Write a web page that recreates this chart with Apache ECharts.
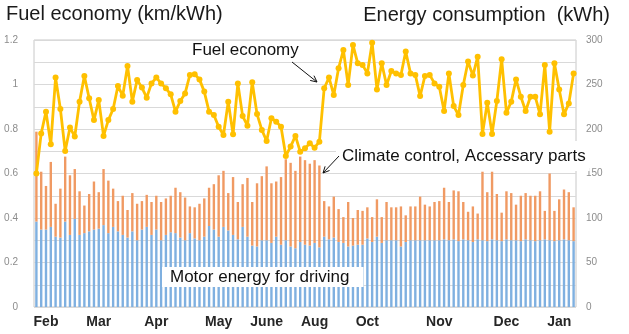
<!DOCTYPE html>
<html>
<head>
<meta charset="utf-8">
<script src="https://cdn.jsdelivr.net/npm/echarts@6/dist/echarts.min.js"></script>
<style>
  html, body { margin: 0; padding: 0; background: #fff; }
  #chart { width: 629px; height: 334px; }
</style>
</head>
<body>
<div id="chart"></div>
<script>
// Fuel economy (km/kWh), one reading per period
const fuelEconomy = [
  0.60, 0.780, 0.878, 0.731, 1.031, 0.890, 0.701, 0.807, 0.766, 0.923,
  1.038, 0.938, 0.840, 0.930, 0.769, 0.840, 0.890, 0.993, 0.950, 1.083,
  0.923, 1.020, 0.986, 0.941, 1.005, 1.031, 1.005, 0.983, 0.956, 0.878,
  0.926, 0.960, 1.043, 1.046, 1.023, 0.968, 0.878, 0.863, 0.810, 0.773,
  0.923, 0.776, 1.005, 0.858, 0.815, 1.010, 0.867, 0.796, 0.746, 0.848,
  0.833, 0.810, 0.679, 0.721, 0.769, 0.698, 0.713, 0.736, 0.716, 0.743,
  0.983, 1.031, 0.953, 1.073, 1.155, 0.998, 1.178, 1.095, 1.088, 1.050,
  1.188, 0.978, 1.095, 0.998, 1.061, 1.050, 1.043, 1.148, 1.050, 1.043,
  0.948, 1.038, 1.043, 1.005, 0.990, 0.881, 1.050, 0.903, 0.863, 0.998,
  1.103, 1.040, 1.125, 0.778, 0.918, 0.778, 0.926, 1.113, 0.873, 0.923,
  1.023, 0.945, 0.881, 0.945, 0.945, 0.866, 1.088, 0.788, 1.095, 0.978,
  0.866, 0.915, 1.050
];

// Motor energy for driving (kWh)
const motorEnergy = [
  96, 87, 87, 90, 79, 78, 96, 81, 99, 81,
  83, 85, 87, 88, 92, 83, 90, 85, 81, 78,
  85, 75, 87, 90, 81, 87, 75, 81, 84, 83,
  78, 75, 83, 77, 75, 79, 91, 87, 79, 90,
  86, 81, 76, 90, 79, 69, 68, 75, 75, 72,
  79, 70, 75, 68, 66, 73, 70, 69, 72, 67,
  79, 76, 78, 73, 72, 68, 69, 70, 70, 77,
  73, 79, 72, 75, 75, 75, 68, 73, 75, 75,
  75, 75, 75, 75, 75, 76, 75, 76, 74, 76,
  75, 73, 76, 75, 74, 76, 75, 74, 76, 75,
  75, 74, 76, 75, 74, 75, 76, 75, 74, 75,
  76, 75, 74
];

// Climate control, accessory parts (kWh)
const climateEnergy = [
  101, 65, 49, 73, 37, 55, 73, 67, 56, 49,
  31, 42, 54, 41, 63, 59, 43, 34, 44, 31,
  43, 41, 32, 36, 37, 38, 43, 41, 41, 51,
  51, 48, 30, 35, 41, 43, 43, 51, 69, 63,
  42, 65, 42, 48, 66, 49, 71, 72, 83, 67,
  62, 76, 91, 94, 87, 96, 95, 92, 93, 92,
  40, 37, 46, 37, 29, 50, 31, 39, 38, 35,
  28, 42, 29, 43, 37, 37, 45, 30, 38, 38,
  49, 40, 38, 43, 44, 58, 43, 55, 56, 42,
  32, 40, 29, 77, 55, 76, 52, 32, 54, 53,
  40, 51, 52, 50, 51, 55, 32, 75, 34, 46,
  56, 54, 38
];

// Month tick labels and the periods they sit on
const monthLabels = ['Feb', 'Mar', 'Apr', 'May', 'June', 'Aug', 'Oct', 'Nov', 'Dec', 'Jan'];
const monthIndex  = [2, 13, 25, 38, 48, 58, 69, 84, 98, 109];

const periods = fuelEconomy.map((_, i) => String(i));
const FONT = '"Liberation Sans", Arial, sans-serif';
const GRID_COLOR = '#d9d9d9';

function arrow(x1, y1, x2, y2) {
  const a = Math.atan2(y2 - y1, x2 - x1), L = 7, s = 0.45;
  return [
    { type: 'line', z: 100, shape: { x1, y1, x2, y2 }, style: { stroke: '#111', lineWidth: 1 } },
    { type: 'polyline', z: 100, shape: { points: [
        [x2 - L * Math.cos(a - s), y2 - L * Math.sin(a - s)],
        [x2, y2],
        [x2 - L * Math.cos(a + s), y2 - L * Math.sin(a + s)]
      ] }, style: { stroke: '#111', lineWidth: 1, fill: null } }
  ];
}

const chart = echarts.init(document.getElementById('chart'), null, { renderer: 'canvas' });
chart.setOption({
  animation: false,
  backgroundColor: '#fff',
  textStyle: { fontFamily: FONT },
  title: [
    { text: 'Fuel economy (km/kWh)', left: 6, top: 4, padding: 0,
      textStyle: { fontSize: 20, fontWeight: 'normal', color: '#1a1a1a', fontFamily: FONT } },
    { text: 'Energy consumption  (kWh)', right: 19, top: 5, padding: 0,
      textStyle: { fontSize: 20, fontWeight: 'normal', color: '#1a1a1a', fontFamily: FONT } }
  ],
  grid: { left: 34, right: 53, top: 40, bottom: 27, show: true, borderColor: '#c8c8c8', borderWidth: 1 },
  xAxis: {
    type: 'category',
    data: periods,
    boundaryGap: true,
    axisLine: { show: false },
    axisTick: { show: false },
    splitLine: { show: false },
    axisLabel: {
      interval: (idx) => monthIndex.indexOf(idx) >= 0,
      formatter: (val, idx) => {
        const k = monthIndex.indexOf(Number(val));
        return k >= 0 ? monthLabels[k] : '';
      },
      margin: 8,
      fontSize: 14,
      fontWeight: 'bold',
      color: '#262626',
      fontFamily: FONT
    }
  },
  yAxis: [
    {
      type: 'value', min: 0, max: 1.2, interval: 0.2,
      axisLine: { show: false }, axisTick: { show: false },
      axisLabel: { fontSize: 10, color: '#8c8c8c', margin: 16, fontFamily: FONT },
      splitLine: { show: true, lineStyle: { color: GRID_COLOR, width: 1 } },
      minorTick: { show: false, splitNumber: 2 },
      minorSplitLine: { show: true, lineStyle: { color: GRID_COLOR, width: 1 } }
    },
    {
      type: 'value', min: 0, max: 300, interval: 50,
      axisLine: { show: false }, axisTick: { show: false },
      axisLabel: { fontSize: 10, color: '#8c8c8c', margin: 10, fontFamily: FONT },
      splitLine: { show: false }
    }
  ],
  series: [
    {
      name: 'Motor energy for driving', type: 'bar', stack: 'energy', yAxisIndex: 1,
      data: motorEnergy, barWidth: '50%',
      itemStyle: { color: '#7fb0e0' }
    },
    {
      name: 'Climate control, Accessary parts', type: 'bar', stack: 'energy', yAxisIndex: 1,
      data: climateEnergy, barWidth: '50%',
      itemStyle: { color: '#f09a63' }
    },
    {
      name: 'Fuel economy', type: 'line', yAxisIndex: 0,
      data: fuelEconomy,
      symbol: 'circle', symbolSize: 6, showAllSymbol: true,
      lineStyle: { color: '#FFC000', width: 2.8 },
      itemStyle: { color: '#FFC000' },
      z: 10
    }
  ],
  graphic: [
    { type: 'text', z: 100, x: 192, y: 42,
      style: { text: 'Fuel economy', fontSize: 17, fontFamily: FONT, fill: '#111', verticalAlign: 'top' } },
    ...arrow(292, 62, 317, 82),
    { type: 'text', z: 100, x: 336, y: 141,
      style: { text: 'Climate control, Accessary parts', fontSize: 17, fontFamily: FONT, fill: '#111',
               verticalAlign: 'top', backgroundColor: '#fff', padding: [7, 4, 6, 6] } },
    ...arrow(339, 156, 323, 173),
    { type: 'text', z: 100, x: 162, y: 267,
      style: { text: 'Motor energy for driving', fontSize: 17, fontFamily: FONT, fill: '#111',
               verticalAlign: 'top', backgroundColor: '#fff', padding: [2, 14, 1, 8] } }
  ]
});
</script>
</body>
</html>
